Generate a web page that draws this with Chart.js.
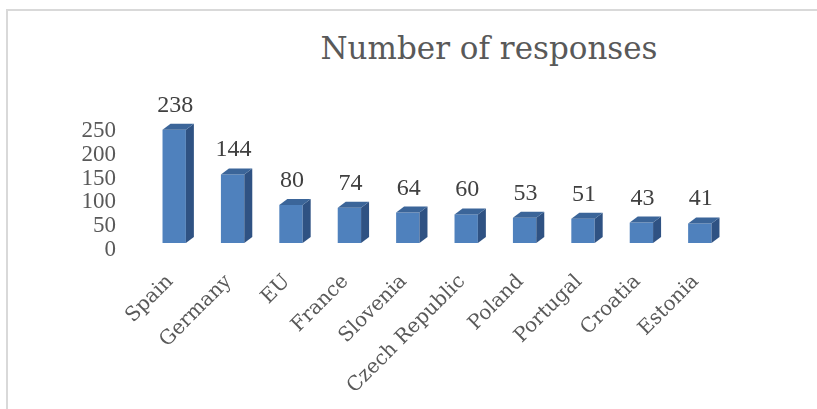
<!DOCTYPE html>
<html>
<head>
<meta charset="utf-8">
<script src="https://cdn.jsdelivr.net/npm/chart.js@4"></script>
<style>
    body { margin: 0; background: #fff; }
    #wrap { position: relative; width: 817px; height: 409px; overflow: hidden; }
    #frame { position: absolute; left: 6px; top: 9px; width: 830px; height: 420px; border: 2px solid #d9d9d9; box-sizing: border-box; }
    #title { position: absolute; left: 0; top: 30px; width: 978px; text-align: center; font: 31px/36px "DejaVu Serif", serif; color: #595959; }
    canvas { position: absolute; left: 0; top: 0; }
</style>
</head>
<body>
<div id="wrap">
    <div id="frame"></div>
    <div id="title">Number of responses</div>
    <canvas id="chart" width="817" height="409"></canvas>
</div>
<script>
const countries = ["Spain", "Germany", "EU", "France", "Slovenia", "Czech Republic", "Poland", "Portugal", "Croatia", "Estonia"];
const responses = [238, 144, 80, 74, 64, 60, 53, 51, 43, 41];
const yTicks = [0, 50, 100, 150, 200, 250];

const COLORS = {
    front: "#4f81bd",
    side: "#2f5283",
    top: "#3b6599",
    text: "#595959",
    value: "#404040",
};
const LABEL_FONT = "'DejaVu Serif', serif";
const NUM_FONT = "'Liberation Serif', serif";

// draws the top and side faces so the bars look like the Excel 3D columns
const bars3d = {
    id: "bars3d",
    afterDatasetsDraw(chart) {
        const ctx = chart.ctx;
        const dx = 8, dy = 6;
        const meta = chart.getDatasetMeta(0);
        ctx.save();
        meta.data.forEach((bar, i) => {
            const left = bar.x - bar.width / 2;
            const right = bar.x + bar.width / 2;
            const top = bar.y;
            const base = bar.base;

            ctx.fillStyle = COLORS.side;
            ctx.beginPath();
            ctx.moveTo(right, top);
            ctx.lineTo(right + dx, top - dy);
            ctx.lineTo(right + dx, base - dy);
            ctx.lineTo(right, base);
            ctx.closePath();
            ctx.fill();

            ctx.fillStyle = COLORS.top;
            ctx.beginPath();
            ctx.moveTo(left, top);
            ctx.lineTo(left + dx, top - dy);
            ctx.lineTo(right + dx, top - dy);
            ctx.lineTo(right, top);
            ctx.closePath();
            ctx.fill();

            ctx.fillStyle = COLORS.value;
            ctx.font = "24px " + NUM_FONT;
            ctx.textAlign = "center";
            ctx.textBaseline = "alphabetic";
            ctx.fillText(String(responses[i]), bar.x + 1, top - dy - 12);
        });
        ctx.restore();
    },
};

new Chart(document.getElementById("chart"), {
    type: "bar",
    data: {
        labels: countries,
        datasets: [
            {
                label: "Number of responses",
                data: responses,
                backgroundColor: COLORS.front,
                barPercentage: 0.8,
                categoryPercentage: 0.5,
            },
        ],
    },
    options: {
        responsive: false,
        animation: false,
        layout: { padding: { left: 0, right: 88, top: 124, bottom: 0 } },
        plugins: {
            legend: { display: false },
            tooltip: { enabled: false },
        },
        scales: {
            y: {
                min: 0,
                max: 250,
                afterBuildTicks: (scale) => { scale.ticks = yTicks.map((v) => ({ value: v })); },
                afterFit: (scale) => { scale.width = 145; },
                grid: { display: false, drawTicks: false },
                border: { display: false },
                ticks: {
                    autoSkip: false,
                    padding: 29,
                    labelOffset: 7,
                    color: COLORS.text,
                    font: { family: NUM_FONT, size: 23 },
                },
            },
            x: {
                afterFit: (scale) => { scale.height = 166; },
                grid: { display: false, drawTicks: false },
                border: { display: false },
                ticks: {
                    minRotation: 45,
                    maxRotation: 45,
                    autoSkip: false,
                    padding: 27,
                    labelOffset: -4,
                    color: COLORS.text,
                    font: { family: LABEL_FONT, size: 20 },
                },
            },
        },
    },
    plugins: [bars3d],
});
</script>
</body>
</html>
